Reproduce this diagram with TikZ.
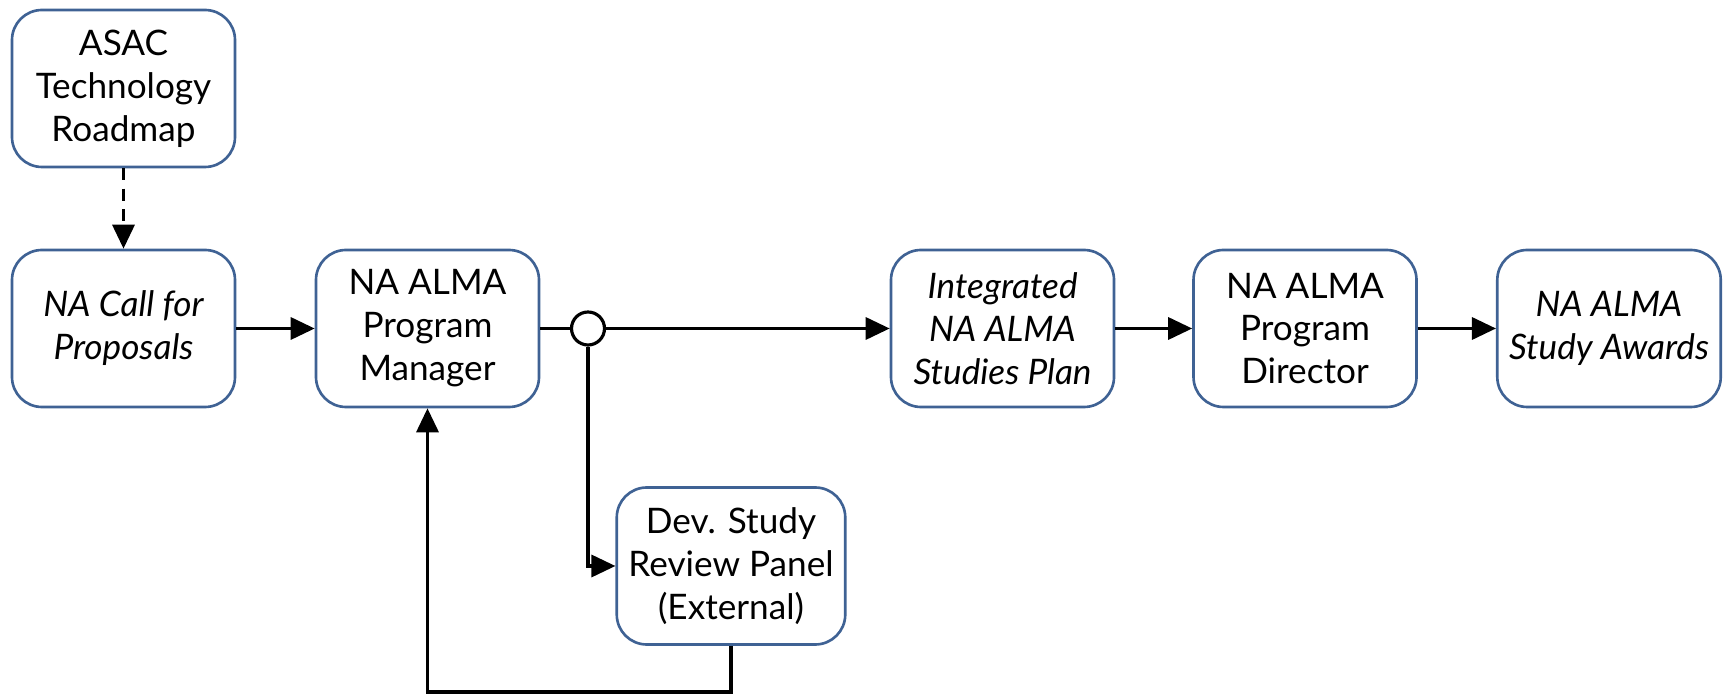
\documentclass[tikz,border=0pt]{standalone}
\usepackage{fontspec}
\setmainfont{Lato}
\usetikzlibrary{arrows.meta}
\definecolor{boxblue}{RGB}{63,98,148}
\begin{document}
\begin{tikzpicture}[>={Triangle[length=2.4mm,width=2.2mm]}]
\useasboundingbox (0,0) rectangle (17.27,-6.94);
\begin{scope}[every node/.style = {draw=boxblue, line width=0.75pt, rounded corners=0.3cm, fill=white, minimum width=2.23cm, minimum height=1.57cm, align=center, font=\fontsize{10}{12.2}\selectfont}]
\node (ASAC) at (1.235, -0.885) {ASAC\\Technology\\Roadmap};
\node (Call) at (1.235, -3.285) {\itshape NA Call for\\\itshape Proposals};
\node (PM) at (4.275, -3.285) {NA ALMA\\Program\\Manager};
\node (Plan) at (10.025, -3.285) {\itshape Integrated\\\itshape NA ALMA\\\itshape Studies Plan};
\node (PD) at (13.05, -3.285) {NA ALMA\\Program\\Director};
\node (Awards) at (16.09, -3.285) {\itshape NA ALMA\\\itshape Study Awards};
\node (Panel) at (7.31, -5.66) {Dev. Study\\Review Panel\\(External)};
\end{scope}
\node (Junc) [circle, draw, line width=0.9pt, fill=white, minimum size=0.33cm, inner sep=0pt] at (5.88, -3.285) {};
\coordinate (Base) at (0, -6.92);
\begin{scope}[every edge/.style = {draw, line width=0.95pt}]
\path (ASAC) edge[->, dash pattern=on 3.4pt off 2.4pt] (Call);
\path (Call) edge[->] (PM);
\path (PM) edge (Junc);
\path (Junc) edge[->] (Plan);
\path (Plan) edge[->] (PD);
\path (PD) edge[->] (Awards);
\end{scope}
\draw[->, line width=0.95pt] (Junc) |- (Panel);
\draw[->, line width=0.95pt] (Panel.south) -- (Panel.south |- Base) -| (PM.south);
\end{tikzpicture}
\end{document}
